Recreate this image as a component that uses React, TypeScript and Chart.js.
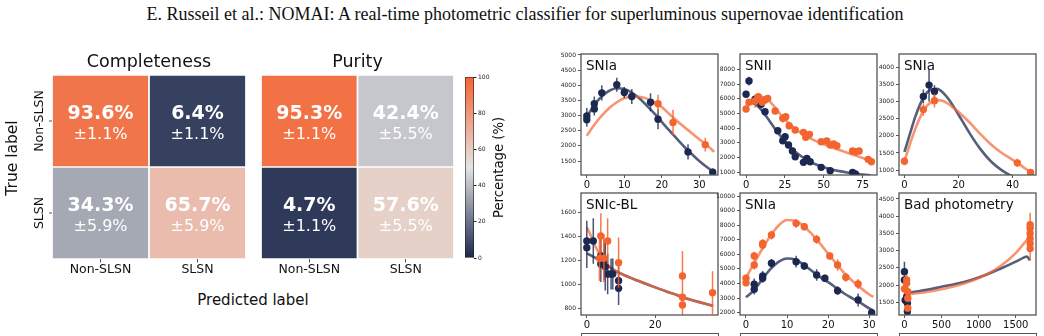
import React, { useEffect, useRef } from 'react';
import { Chart, registerables } from 'chart.js';

Chart.register(...registerables);

const FONT = "'DejaVu Sans', 'Liberation Sans', sans-serif";

// ---------- confusion matrices ----------
const classLabels = ['Non-SLSN', 'SLSN'];
const completenessPct = [93.6, 6.4, 34.3, 65.7];
const completenessErr = [1.1, 1.1, 5.9, 5.9];
const purityPct = [95.3, 42.4, 4.7, 57.6];
const purityErr = [1.1, 5.5, 1.1, 5.5];
const colorbarTicks = [0, 20, 40, 60, 80, 100];

// ---------- light curves (g band = navy, r band = orange) ----------
// panel 1: SNIa
const p1XTicks = [0, 10, 20, 30];
const p1YTicks = [1500, 2000, 2500, 3000, 3500, 4000, 4500, 5000];
const p1GT = [0, 0, 2, 2, 4, 8, 10, 12, 17, 19, 27, 33.6];
const p1GF = [2990, 2860, 3390, 3220, 3750, 4020, 3760, 3630, 3440, 2880, 1800, 1130];
const p1GE = [260, 230, 240, 220, 250, 230, 180, 250, 300, 330, 250, 120];
const p1RT = [19, 23, 31.6];
const p1RF = [3390, 2770, 2040];
const p1RE = [300, 420, 230];
const p1GFitT = [0, 2, 4, 6, 8, 10, 12, 14, 16, 18, 20, 22, 24, 26, 28, 30, 32, 34];
const p1GFitF = [2950, 3350, 3640, 3820, 3900, 3880, 3760, 3570, 3330, 3070, 2790, 2510, 2240, 1970, 1730, 1500, 1300, 1120];
const p1RFitT = [0, 2, 4, 6, 8, 10, 12, 14, 16, 18, 20, 22, 24, 26, 28, 30, 32, 34];
const p1RFitF = [2330, 2700, 3000, 3250, 3440, 3570, 3630, 3620, 3560, 3440, 3280, 3050, 2830, 2620, 2420, 2220, 2030, 1800];

// panel 2: SNII
const p2XTicks = [0, 25, 50, 75];
const p2YTicks = [1000, 2000, 3000, 4000, 5000, 6000, 7000, 8000];
const p2GT = [0, 1.9, 5.8, 9.7, 12.2, 20.4, 23.6, 25.1, 27.3, 29.8, 31.6, 36.9, 39.1, 41.2, 48.3, 54.1, 68.5, 70.3];
const p2GF = [6300, 7200, 5960, 5620, 5120, 3825, 3145, 3417, 2852, 2444, 2057, 1676, 1948, 1717, 1336, 1105, 996, 880];
const p2GE = [250, 300, 200, 200, 150, 150, 150, 150, 150, 150, 150, 120, 150, 120, 120, 100, 100, 100];
const p2RT = [0, 1.9, 5.8, 7.9, 10.4, 12.2, 13.9, 18.7, 23.6, 25.5, 27.7, 31.6, 36.9, 38.4, 40.8, 48.3, 51.9, 54.1, 56.3, 58.4, 68.5, 70.6, 72.7, 78.5, 80.6];
const p2RF = [5300, 5756, 5844, 6137, 5756, 5915, 6023, 5164, 4668, 4780, 4165, 3872, 3716, 3376, 3580, 3077, 3122, 2852, 2920, 2808, 2444, 2400, 2444, 1880, 1717];
const p2RE = [200, 200, 450, 250, 200, 200, 200, 150, 300, 200, 150, 150, 150, 150, 150, 120, 120, 120, 120, 120, 120, 120, 120, 120, 120];
const p2GFitT = [0, 3, 6, 9, 12, 15, 18, 21, 24, 27, 30, 35, 40, 45, 50, 55, 60, 65, 70, 75, 80];
const p2GFitF = [5700, 5720, 5620, 5350, 4950, 4500, 4050, 3620, 3220, 2870, 2560, 2120, 1780, 1530, 1340, 1190, 1080, 990, 910, 850, 790];
const p2RFitT = [0, 3, 6, 9, 12, 15, 18, 21, 24, 27, 30, 35, 40, 45, 50, 55, 60, 65, 70, 75, 80];
const p2RFitF = [5550, 5850, 6050, 6130, 6080, 5850, 5480, 5080, 4700, 4380, 4100, 3700, 3380, 3120, 2900, 2700, 2520, 2330, 2150, 1970, 1790];

// panel 3: SNIa
const p3XTicks = [0, 20, 40];
const p3YTicks = [1000, 1500, 2000, 2500, 3000, 3500, 4000];
const p3GT = [7, 9.1, 11.1];
const p3GF = [3158, 3489, 3303];
const p3GE = [200, 480, 180];
const p3RT = [0, 7, 11.1, 41.7, 46.6];
const p3RF = [1261, 2771, 3033, 1211, 932];
const p3RE = [120, 180, 200, 120, 80];
const p3GFitT = [0, 2, 4, 6, 8, 10, 12, 14, 16, 18, 20, 24, 28, 32, 36, 40, 44];
const p3GFitF = [1530, 2050, 2560, 2960, 3240, 3370, 3380, 3290, 3110, 2880, 2620, 2090, 1620, 1250, 990, 810, 700];
const p3RFitT = [0, 2, 4, 6, 8, 10, 12, 14, 16, 18, 20, 24, 28, 32, 36, 40, 44, 47];
const p3RFitF = [1240, 1750, 2200, 2580, 2850, 3000, 3050, 3030, 2950, 2830, 2700, 2400, 2060, 1750, 1500, 1300, 1080, 920];

// panel 4: SNIc-BL
const p4XTicks = [0, 20];
const p4YTicks = [800, 1000, 1200, 1400, 1600];
const p4GT = [0, 0, 1.9, 4.1, 4.1, 5.1, 5.4, 6.1, 7.1, 7.6, 9.3, 9.3];
const p4GF = [1363, 1307, 1363, 1240, 1171, 1204, 1148, 1087, 1087, 1087, 1031, 967];
const p4GE = [170, 170, 190, 140, 150, 170, 200, 170, 130, 130, 130, 140];
const p4RT = [3.7, 4.1, 5.0, 6.1, 9.3, 28.0, 28.0, 28.0, 36.8];
const p4RF = [1218, 1405, 1218, 1363, 1182, 1070, 892, 828, 931];
const p4RE = [190, 190, 200, 190, 210, 210, 200, 200, 180];
const p4GFitT = [0, 2, 4, 6, 8, 10, 15, 20, 25, 30, 37];
const p4GFitF = [1260, 1230, 1195, 1160, 1120, 1090, 1030, 975, 925, 875, 820];
const p4RFitT = [0, 1, 2, 3, 4, 5, 6, 8, 10, 15, 20, 25, 30, 37];
const p4RFitF = [1478, 1420, 1350, 1290, 1240, 1200, 1165, 1120, 1090, 1030, 975, 925, 875, 820];

// panel 5: SNIa
const p5XTicks = [0, 10, 20, 30];
const p5YTicks = [2000, 3000, 4000, 5000, 6000, 7000, 8000, 9000, 10000];
const p5GT = [2, 2, 4.06, 4.06, 6.2, 12.2, 14.2, 17.2, 19.2, 22.3, 27.3, 30.6];
const p5GF = [3945, 3602, 4514, 4357, 5385, 5497, 5200, 4583, 4357, 3506, 2869, 2000];
const p5GE = [400, 350, 350, 300, 300, 400, 250, 400, 250, 300, 450, 150];
const p5RT = [0, 0, 2, 2, 4.06, 4.06, 6.2, 12.2, 14.2, 17.2, 20.4, 22.3, 24.3, 27.3];
const p5RF = [4357, 4057, 5269, 5886, 6640, 6755, 7326, 8126, 7897, 7029, 5886, 5269, 4425, 3966];
const p5RE = [250, 250, 300, 300, 300, 300, 300, 300, 250, 300, 250, 400, 300, 350];
const p5GFitT = [0, 2, 4, 6, 8, 10, 12, 14, 16, 18, 20, 22, 24, 26, 28, 30, 31];
const p5GFitF = [3050, 3550, 4300, 5000, 5500, 5720, 5650, 5300, 4870, 4460, 4100, 3700, 3300, 2970, 2650, 2300, 2150];
const p5RFitT = [0, 2, 4, 6, 8, 10, 12, 14, 16, 18, 20, 22, 24, 26, 28, 30, 31];
const p5RFitF = [4400, 5400, 6400, 7300, 8000, 8350, 8300, 7950, 7400, 6750, 6050, 5350, 4700, 4150, 3680, 3250, 3080];

// panel 6: bad photometry
const p6XTicks = [0, 500, 1000, 1500];
const p6YTicks = [1500, 2000, 2500, 3000, 3500, 4000, 4500];
const p6GT = [0, 0, 30, 10, 40, 40];
const p6GF = [2390, 2150, 1660, 1560, 1470, 1230];
const p6GE = [290, 200, 150, 150, 120, 100];
const p6RT = [0, 30, 30, 45, 45, 45, 1694, 1694, 1694, 1694, 1694, 1694];
const p6RF = [1890, 2150, 2050, 1810, 1620, 1330, 3750, 3650, 3500, 3350, 3210, 3060];
const p6RE = [150, 150, 150, 150, 120, 100, 350, 350, 300, 300, 300, 350];
const p6GFitT = [0, 100, 300, 500, 700, 900, 1100, 1300, 1500, 1600, 1650, 1690];
const p6GFitF = [1750, 1790, 1860, 1950, 2040, 2150, 2300, 2480, 2680, 2790, 2830, 2720];
const p6RFitT = [0, 100, 300, 500, 700, 900, 1100, 1300, 1500, 1600, 1690];
const p6RFitF = [1700, 1740, 1800, 1880, 1980, 2120, 2300, 2560, 2930, 3180, 3420];

const panelTitles = ['SNIa', 'SNII', 'SNIa', 'SNIc-BL', 'SNIa', 'Bad photometry'];

// ---------- styling ----------
const NAVY = 'rgb(27, 40, 80)';
const ORANGE = 'rgb(243, 100, 46)';
const NAVY_FIT = 'rgba(28, 42, 80, 0.75)';
const ORANGE_FIT = 'rgba(243, 104, 55, 0.7)';
const NAVY_ERR = 'rgba(27, 40, 80, 0.8)';
const ORANGE_ERR = 'rgba(243, 100, 46, 0.85)';
const CMAP_STOPS = [
  [28, 40, 76],
  [228, 228, 228],
  [243, 101, 52],
];

function cmap(pct: number): string {
  const t = Math.max(0, Math.min(1, pct / 100));
  const seg = t < 0.5 ? 0 : 1;
  const u = t < 0.5 ? t / 0.5 : (t - 0.5) / 0.5;
  const a = CMAP_STOPS[seg];
  const b = CMAP_STOPS[seg + 1];
  const c = a.map((v, i) => Math.round(v + (b[i] - v) * u));
  return `rgb(${c[0]}, ${c[1]}, ${c[2]})`;
}

const zip = (xs: number[], ys: number[]) => xs.map((x, i) => ({ x, y: ys[i] }));

type Panel = {
  title: string;
  xRange: [number, number];
  yRange: [number, number];
  xTicks: number[];
  yTicks: number[];
  g: [number[], number[], number[]];
  r: [number[], number[], number[]];
  gFit: [number[], number[]];
  rFit: [number[], number[]];
};

const panels: Panel[] = [
  { title: panelTitles[0], xRange: [-1.55, 35.0], yRange: [1038, 5033], xTicks: p1XTicks, yTicks: p1YTicks, g: [p1GT, p1GF, p1GE], r: [p1RT, p1RF, p1RE], gFit: [p1GFitT, p1GFitF], rFit: [p1RFitT, p1RFitF] },
  { title: panelTitles[1], xRange: [-3.9, 84.2], yRange: [816, 9040], xTicks: p2XTicks, yTicks: p2YTicks, g: [p2GT, p2GF, p2GE], r: [p2RT, p2RF, p2RE], gFit: [p2GFitT, p2GFitF], rFit: [p2RFitT, p2RFitF] },
  { title: panelTitles[2], xRange: [-2.0, 48.6], yRange: [855, 4400], xTicks: p3XTicks, yTicks: p3YTicks, g: [p3GT, p3GF, p3GE], r: [p3RT, p3RF, p3RE], gFit: [p3GFitT, p3GFitF], rFit: [p3RFitT, p3RFitF] },
  { title: panelTitles[3], xRange: [-1.7, 38.4], yRange: [744, 1765], xTicks: p4XTicks, yTicks: p4YTicks, g: [p4GT, p4GF, p4GE], r: [p4RT, p4RF, p4RE], gFit: [p4GFitT, p4GFitF], rFit: [p4RFitT, p4RFitF] },
  { title: panelTitles[4], xRange: [-1.46, 31.9], yRange: [1842, 10206], xTicks: p5XTicks, yTicks: p5YTicks, g: [p5GT, p5GF, p5GE], r: [p5RT, p5RF, p5RE], gFit: [p5GFitT, p5GFitF], rFit: [p5RFitT, p5RFitF] },
  { title: panelTitles[5], xRange: [-73, 1773], yRange: [1131, 4674], xTicks: p6XTicks, yTicks: p6YTicks, g: [p6GT, p6GF, p6GE], r: [p6RT, p6RF, p6RE], gFit: [p6GFitT, p6GFitF], rFit: [p6RFitT, p6RFitF] },
];

// plot-area rectangles of the light-curve grid (page pixels)
const PANEL_BOXES = [
  { left: 581, top: 54, w: 137, h: 121 },
  { left: 740, top: 54, w: 137, h: 121 },
  { left: 899, top: 54, w: 137, h: 121 },
  { left: 581, top: 193, w: 137, h: 122 },
  { left: 740, top: 193, w: 137, h: 122 },
  { left: 899, top: 193, w: 137, h: 122 },
];
const LC_LEFT = 40;
const LC_TOP = 8;
const LC_RIGHT = 8;
const LC_BOTTOM = 22;

// ---------- plugins ----------
const errorBarPlugin = {
  id: 'errorBars',
  beforeDatasetDraw(chart: any, args: any) {
    const ds = chart.data.datasets[args.index];
    if (!ds.errorBars) return;
    const { ctx, chartArea, scales } = chart;
    ctx.save();
    ctx.beginPath();
    ctx.rect(chartArea.left, chartArea.top, chartArea.right - chartArea.left, chartArea.bottom - chartArea.top);
    ctx.clip();
    ctx.strokeStyle = ds.errorColor;
    ctx.lineWidth = 1.5;
    ctx.beginPath();
    ds.data.forEach((pt: any, i: number) => {
      const e = ds.errorBars[i];
      const px = scales.x.getPixelForValue(pt.x);
      ctx.moveTo(px, scales.y.getPixelForValue(pt.y - e));
      ctx.lineTo(px, scales.y.getPixelForValue(pt.y + e));
    });
    ctx.stroke();
    ctx.restore();
  },
};

const panelFramePlugin = {
  id: 'panelFrame',
  afterDatasetsDraw(chart: any, _args: any, opts: any) {
    const { ctx, chartArea: a } = chart;
    ctx.save();
    ctx.strokeStyle = '#555';
    ctx.lineWidth = 1.3;
    ctx.strokeRect(a.left, a.top, a.right - a.left, a.bottom - a.top);
    ctx.fillStyle = '#111';
    ctx.font = `13.5px ${FONT}`;
    ctx.textAlign = 'left';
    ctx.textBaseline = 'alphabetic';
    ctx.fillText(opts.title, a.left + 5, a.top + 16);
    ctx.restore();
  },
};

const matrixTextPlugin = {
  id: 'matrixText',
  afterDatasetsDraw(chart: any, _args: any, opts: any) {
    const { ctx, chartArea: a } = chart;
    ctx.save();
    ctx.textAlign = 'center';
    ctx.textBaseline = 'middle';
    for (let r = 0; r < classLabels.length; r++) {
      const meta = chart.getDatasetMeta(r);
      for (let c = 0; c < classLabels.length; c++) {
        const el = meta.data[c];
        const cx = el.x;
        const cy = (el.y + el.base) / 2;
        const k = r * classLabels.length + c;
        ctx.fillStyle = '#ffffff';
        ctx.font = `bold 19px ${FONT}`;
        ctx.fillText(`${opts.values[k].toFixed(1)}%`, cx, cy - 7);
        ctx.font = `16px ${FONT}`;
        ctx.fillText(`±${opts.errors[k].toFixed(1)}%`, cx, cy + 13.5);
      }
    }
    ctx.fillStyle = '#111';
    ctx.font = `17.5px ${FONT}`;
    ctx.fillText(opts.title, (a.left + a.right) / 2, a.top - 13);

    if (opts.yLabels) {
      const y = chart.scales.y;
      ctx.strokeStyle = '#555';
      ctx.lineWidth = 1;
      classLabels.forEach((lab, r) => {
        const py = y.getPixelForValue(r + 0.5);
        ctx.beginPath();
        ctx.moveTo(a.left - 3, py);
        ctx.lineTo(a.left, py);
        ctx.stroke();
        ctx.save();
        ctx.translate(a.left - 12, py);
        ctx.rotate(-Math.PI / 2);
        ctx.font = `12.5px ${FONT}`;
        ctx.fillText(lab, 0, 0);
        ctx.restore();
      });
      ctx.save();
      ctx.translate(a.left - 39, (a.top + a.bottom) / 2 - 9);
      ctx.rotate(-Math.PI / 2);
      ctx.font = `15.5px ${FONT}`;
      ctx.fillText(opts.yTitle, 0, 0);
      ctx.restore();
    }
    ctx.restore();
  },
};

const colorbarLabelPlugin = {
  id: 'colorbarLabel',
  afterDraw(chart: any, _args: any, opts: any) {
    const { ctx, chartArea: a } = chart;
    ctx.save();
    ctx.translate(a.right + 26, (a.top + a.bottom) / 2);
    ctx.rotate(-Math.PI / 2);
    ctx.textAlign = 'center';
    ctx.textBaseline = 'middle';
    ctx.fillStyle = '#111';
    ctx.font = `13.2px ${FONT}`;
    ctx.fillText(opts.text, 0, 0);
    ctx.restore();
  },
};

// ---------- chart configs ----------
function matrixConfig(title: string, values: number[], errors: number[], yLabels: boolean, padLeft: number) {
  return {
    type: 'bar',
    data: {
      labels: classLabels,
      datasets: classLabels.map((rowLabel, r) => ({
        label: rowLabel,
        data: classLabels.map(() => [r, r + 1]),
        backgroundColor: classLabels.map((_, c) => cmap(values[r * classLabels.length + c])),
        borderColor: '#ffffff',
        borderWidth: 1.2,
        borderSkipped: false,
        barPercentage: 1,
        categoryPercentage: 1,
        grouped: false,
      })),
    },
    options: {
      responsive: false,
      animation: false,
      devicePixelRatio: 1,
      layout: { padding: { left: padLeft, top: 35, right: 6, bottom: 0 } },
      plugins: {
        legend: { display: false },
        tooltip: { enabled: false },
        matrixText: { title, values, errors, yLabels, yTitle: 'True label' },
      },
      scales: {
        x: {
          type: 'category',
          grid: { offset: false, drawOnChartArea: false, tickLength: 3.5, color: '#555' },
          border: { display: false },
          ticks: { font: { family: FONT, size: 12.5 }, color: '#111', padding: 0 },
          afterFit: (s: any) => { s.height = 27; },
        },
        y: { type: 'linear', display: false, min: 0, max: 2, reverse: true },
      },
    },
    plugins: [matrixTextPlugin],
  };
}

function colorbarConfig() {
  return {
    type: 'bar',
    data: {
      labels: [''],
      datasets: [{
        data: [[colorbarTicks[0], colorbarTicks[colorbarTicks.length - 1]]],
        backgroundColor: (ctx: any) => {
          const area = ctx.chart.chartArea;
          if (!area) return cmap(50);
          const g = ctx.chart.ctx.createLinearGradient(0, area.bottom, 0, area.top);
          for (let i = 0; i <= 20; i++) g.addColorStop(i / 20, cmap(i * 5));
          return g;
        },
        borderColor: '#1a1a1a',
        borderWidth: 0.9,
        borderSkipped: false,
        barPercentage: 1,
        categoryPercentage: 1,
      }],
    },
    options: {
      responsive: false,
      animation: false,
      devicePixelRatio: 1,
      layout: { padding: { left: 25, top: 37, right: 0, bottom: 28 } },
      plugins: {
        legend: { display: false },
        tooltip: { enabled: false },
        colorbarLabel: { text: 'Percentage (%)' },
      },
      scales: {
        x: { display: false },
        y: {
          position: 'right',
          min: 0,
          max: 100,
          afterBuildTicks: (s: any) => { s.ticks = colorbarTicks.map((v) => ({ value: v })); },
          ticks: { font: { family: FONT, size: 6 }, color: '#222', padding: 1.5, autoSkip: false, callback: (v: any) => String(v) },
          grid: { drawOnChartArea: false, tickLength: 2.5, color: '#222' },
          border: { display: false },
          afterFit: (s: any) => { s.width = 46; },
        },
      },
    },
    plugins: [colorbarLabelPlugin],
  };
}

function lightCurveConfig(p: Panel) {
  const tickFont = { family: FONT, size: 6 };
  return {
    type: 'scatter',
    data: {
      datasets: [
        {
          label: 'r',
          data: zip(p.r[0], p.r[1]),
          errorBars: p.r[2],
          errorColor: ORANGE_ERR,
          backgroundColor: ORANGE,
          borderColor: ORANGE,
          pointRadius: 3.7,
          pointBorderWidth: 0,
          order: 0,
        },
        {
          label: 'g',
          data: zip(p.g[0], p.g[1]),
          errorBars: p.g[2],
          errorColor: NAVY_ERR,
          backgroundColor: NAVY,
          borderColor: NAVY,
          pointRadius: 3.7,
          pointBorderWidth: 0,
          order: 1,
        },
        {
          label: 'r fit',
          data: zip(p.rFit[0], p.rFit[1]),
          showLine: true,
          pointRadius: 0,
          borderColor: ORANGE_FIT,
          borderWidth: 2.6,
          cubicInterpolationMode: 'monotone',
          order: 2,
        },
        {
          label: 'g fit',
          data: zip(p.gFit[0], p.gFit[1]),
          showLine: true,
          pointRadius: 0,
          borderColor: NAVY_FIT,
          borderWidth: 2.6,
          cubicInterpolationMode: 'monotone',
          order: 3,
        },
      ],
    },
    options: {
      responsive: false,
      animation: false,
      devicePixelRatio: 1,
      layout: { padding: { left: 0, top: LC_TOP, right: LC_RIGHT, bottom: 0 } },
      plugins: {
        legend: { display: false },
        tooltip: { enabled: false },
        panelFrame: { title: p.title },
      },
      scales: {
        x: {
          type: 'linear',
          min: p.xRange[0],
          max: p.xRange[1],
          afterBuildTicks: (s: any) => { s.ticks = p.xTicks.map((v) => ({ value: v })); },
          afterFit: (s: any) => { s.height = LC_BOTTOM; },
          ticks: { font: { family: FONT, size: 10 }, color: '#111', padding: 1.5, autoSkip: false, maxRotation: 0, callback: (v: any) => String(v) },
          grid: { drawOnChartArea: false, tickLength: 3, color: '#555' },
          border: { display: false },
        },
        y: {
          type: 'linear',
          min: p.yRange[0],
          max: p.yRange[1],
          afterBuildTicks: (s: any) => { s.ticks = p.yTicks.map((v) => ({ value: v })); },
          afterFit: (s: any) => { s.width = LC_LEFT; },
          ticks: { font: tickFont, color: '#222', padding: 2, autoSkip: false, callback: (v: any) => String(v) },
          grid: { drawOnChartArea: false, tickLength: 3, color: '#555' },
          border: { display: false },
        },
      },
    },
    plugins: [errorBarPlugin, panelFramePlugin],
  };
}

// ---------- components ----------
type Box = { left: number; top: number; width: number; height: number };

function ChartCanvas({ box, makeConfig }: { box: Box; makeConfig: () => any }) {
  const ref = useRef<HTMLCanvasElement | null>(null);
  useEffect(() => {
    if (!ref.current) return;
    const chart = new Chart(ref.current, makeConfig());
    return () => chart.destroy();
  }, []);
  return (
    <canvas
      ref={ref}
      width={box.width}
      height={box.height}
      style={{ position: 'absolute', left: box.left, top: box.top, width: box.width, height: box.height }}
    />
  );
}

export default function App() {
  return (
    <div
      style={{
        position: 'fixed',
        left: 0,
        top: 0,
        width: 1044,
        height: 336,
        overflow: 'hidden',
        background: '#ffffff',
      }}
    >
      <div
        style={{
          position: 'absolute',
          left: 3,
          top: 3,
          width: 1044,
          textAlign: 'center',
          fontFamily: "'Liberation Serif', 'Times New Roman', serif",
          fontSize: 18,
          lineHeight: '22px',
          color: '#111',
          whiteSpace: 'nowrap',
        }}
      >
        E. Russeil et al.: NOMAI: A real-time photometric classifier for superluminous supernovae identification
      </div>

      <ChartCanvas
        box={{ left: 0, top: 40, width: 252, height: 246 }}
        makeConfig={() => matrixConfig('Completeness', completenessPct, completenessErr, true, 52)}
      />
      <ChartCanvas
        box={{ left: 255, top: 40, width: 205, height: 246 }}
        makeConfig={() => matrixConfig('Purity', purityPct, purityErr, false, 6)}
      />
      <ChartCanvas box={{ left: 440, top: 40, width: 80, height: 246 }} makeConfig={colorbarConfig} />

      <div
        style={{
          position: 'absolute',
          left: 153,
          top: 291,
          width: 200,
          textAlign: 'center',
          fontFamily: FONT,
          fontSize: 15,
          lineHeight: '18px',
          color: '#111',
        }}
      >
        Predicted label
      </div>

      {panels.map((p, i) => {
        const b = PANEL_BOXES[i];
        return (
          <ChartCanvas
            key={i}
            box={{
              left: b.left - LC_LEFT,
              top: b.top - LC_TOP,
              width: b.w + LC_LEFT + LC_RIGHT,
              height: b.h + LC_TOP + LC_BOTTOM,
            }}
            makeConfig={() => lightCurveConfig(p)}
          />
        );
      })}

      {[581, 740, 899].map((x) => (
        <div
          key={x}
          style={{
            position: 'absolute',
            left: x,
            top: 333,
            width: 136,
            height: 20,
            border: '1.3px solid #555',
          }}
        />
      ))}
    </div>
  );
}
